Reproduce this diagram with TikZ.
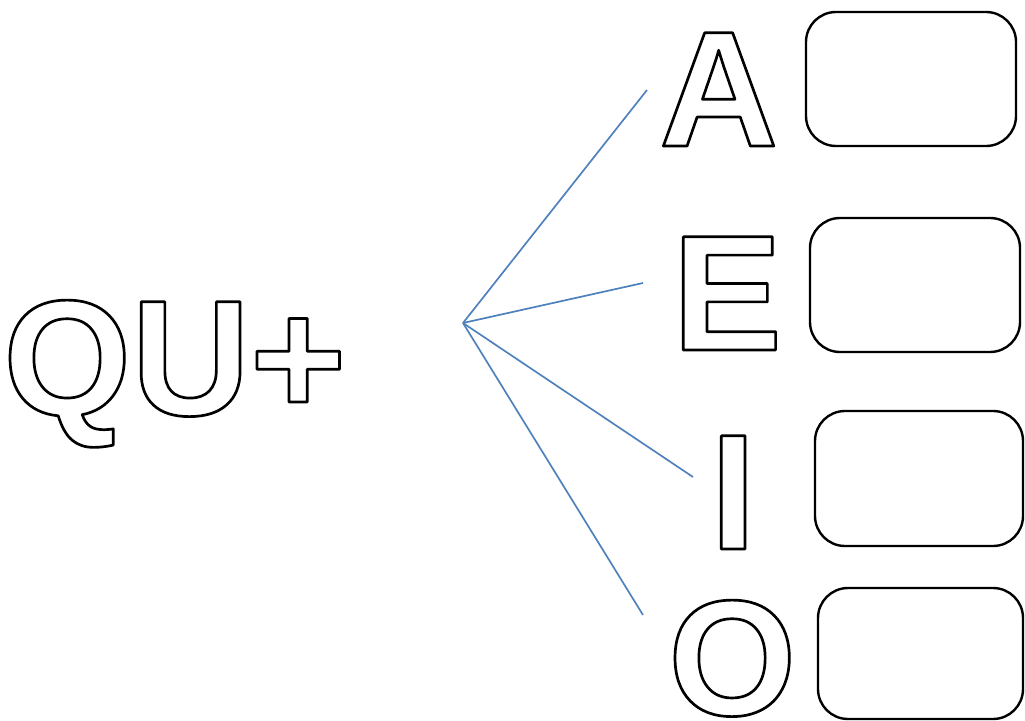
\documentclass[tikz,border=0pt]{standalone}
\usepackage{fontspec}
\newfontfamily\vowelfont{Liberation Sans}
\definecolor{fanblue}{RGB}{79,129,189}
% letra hueca: relleno blanco, trazo negro
\newcommand{\hollow}[1]{\textcolor{white}{\special{pdf:literal direct 2 Tr 1.9 w 0 G 1 j}#1\special{pdf:literal direct 0 Tr}}}
\tikzset{
  letter/.style={anchor=base west, inner sep=0pt, font=\vowelfont\bfseries\fontsize{117}{120}\selectfont},
  answerbox/.style={draw, line width=1.7pt, rounded corners=0.75cm},
  fan/.style={draw=fanblue, line width=1.2pt}
}
\begin{document}
\begin{tikzpicture}[x=0.025cm, y=-0.025cm]
    \useasboundingbox (0,0) rectangle (1025,721);
    % Silaba
    \node[letter] (qu) at (3,415) {\hollow{QU+}};
    % Vocales
    \node[letter] (a) at (659,146) {\hollow{A}};
    \node[letter] (e) at (672,350) {\hollow{E}};
    \node[letter] (i) at (710,549) {\hollow{I}};
    \node[letter] (o) at (668,715) {\hollow{O}};
    % Recuadros
    \draw[answerbox] (806,12) rectangle (1016,146);
    \draw[answerbox] (810,218) rectangle (1020,352);
    \draw[answerbox] (815,411) rectangle (1023,546);
    \draw[answerbox] (818,588) rectangle (1023,719);
    % Abanico
    \coordinate (root) at (463,323);
    \coordinate (ta) at (647,90);
    \coordinate (te) at (643,283);
    \coordinate (ti) at (693,477);
    \coordinate (to) at (643,615);
    \foreach \t in {ta,te,ti,to}
        \draw[fan] (root) -- (\t);
\end{tikzpicture}
\end{document}
